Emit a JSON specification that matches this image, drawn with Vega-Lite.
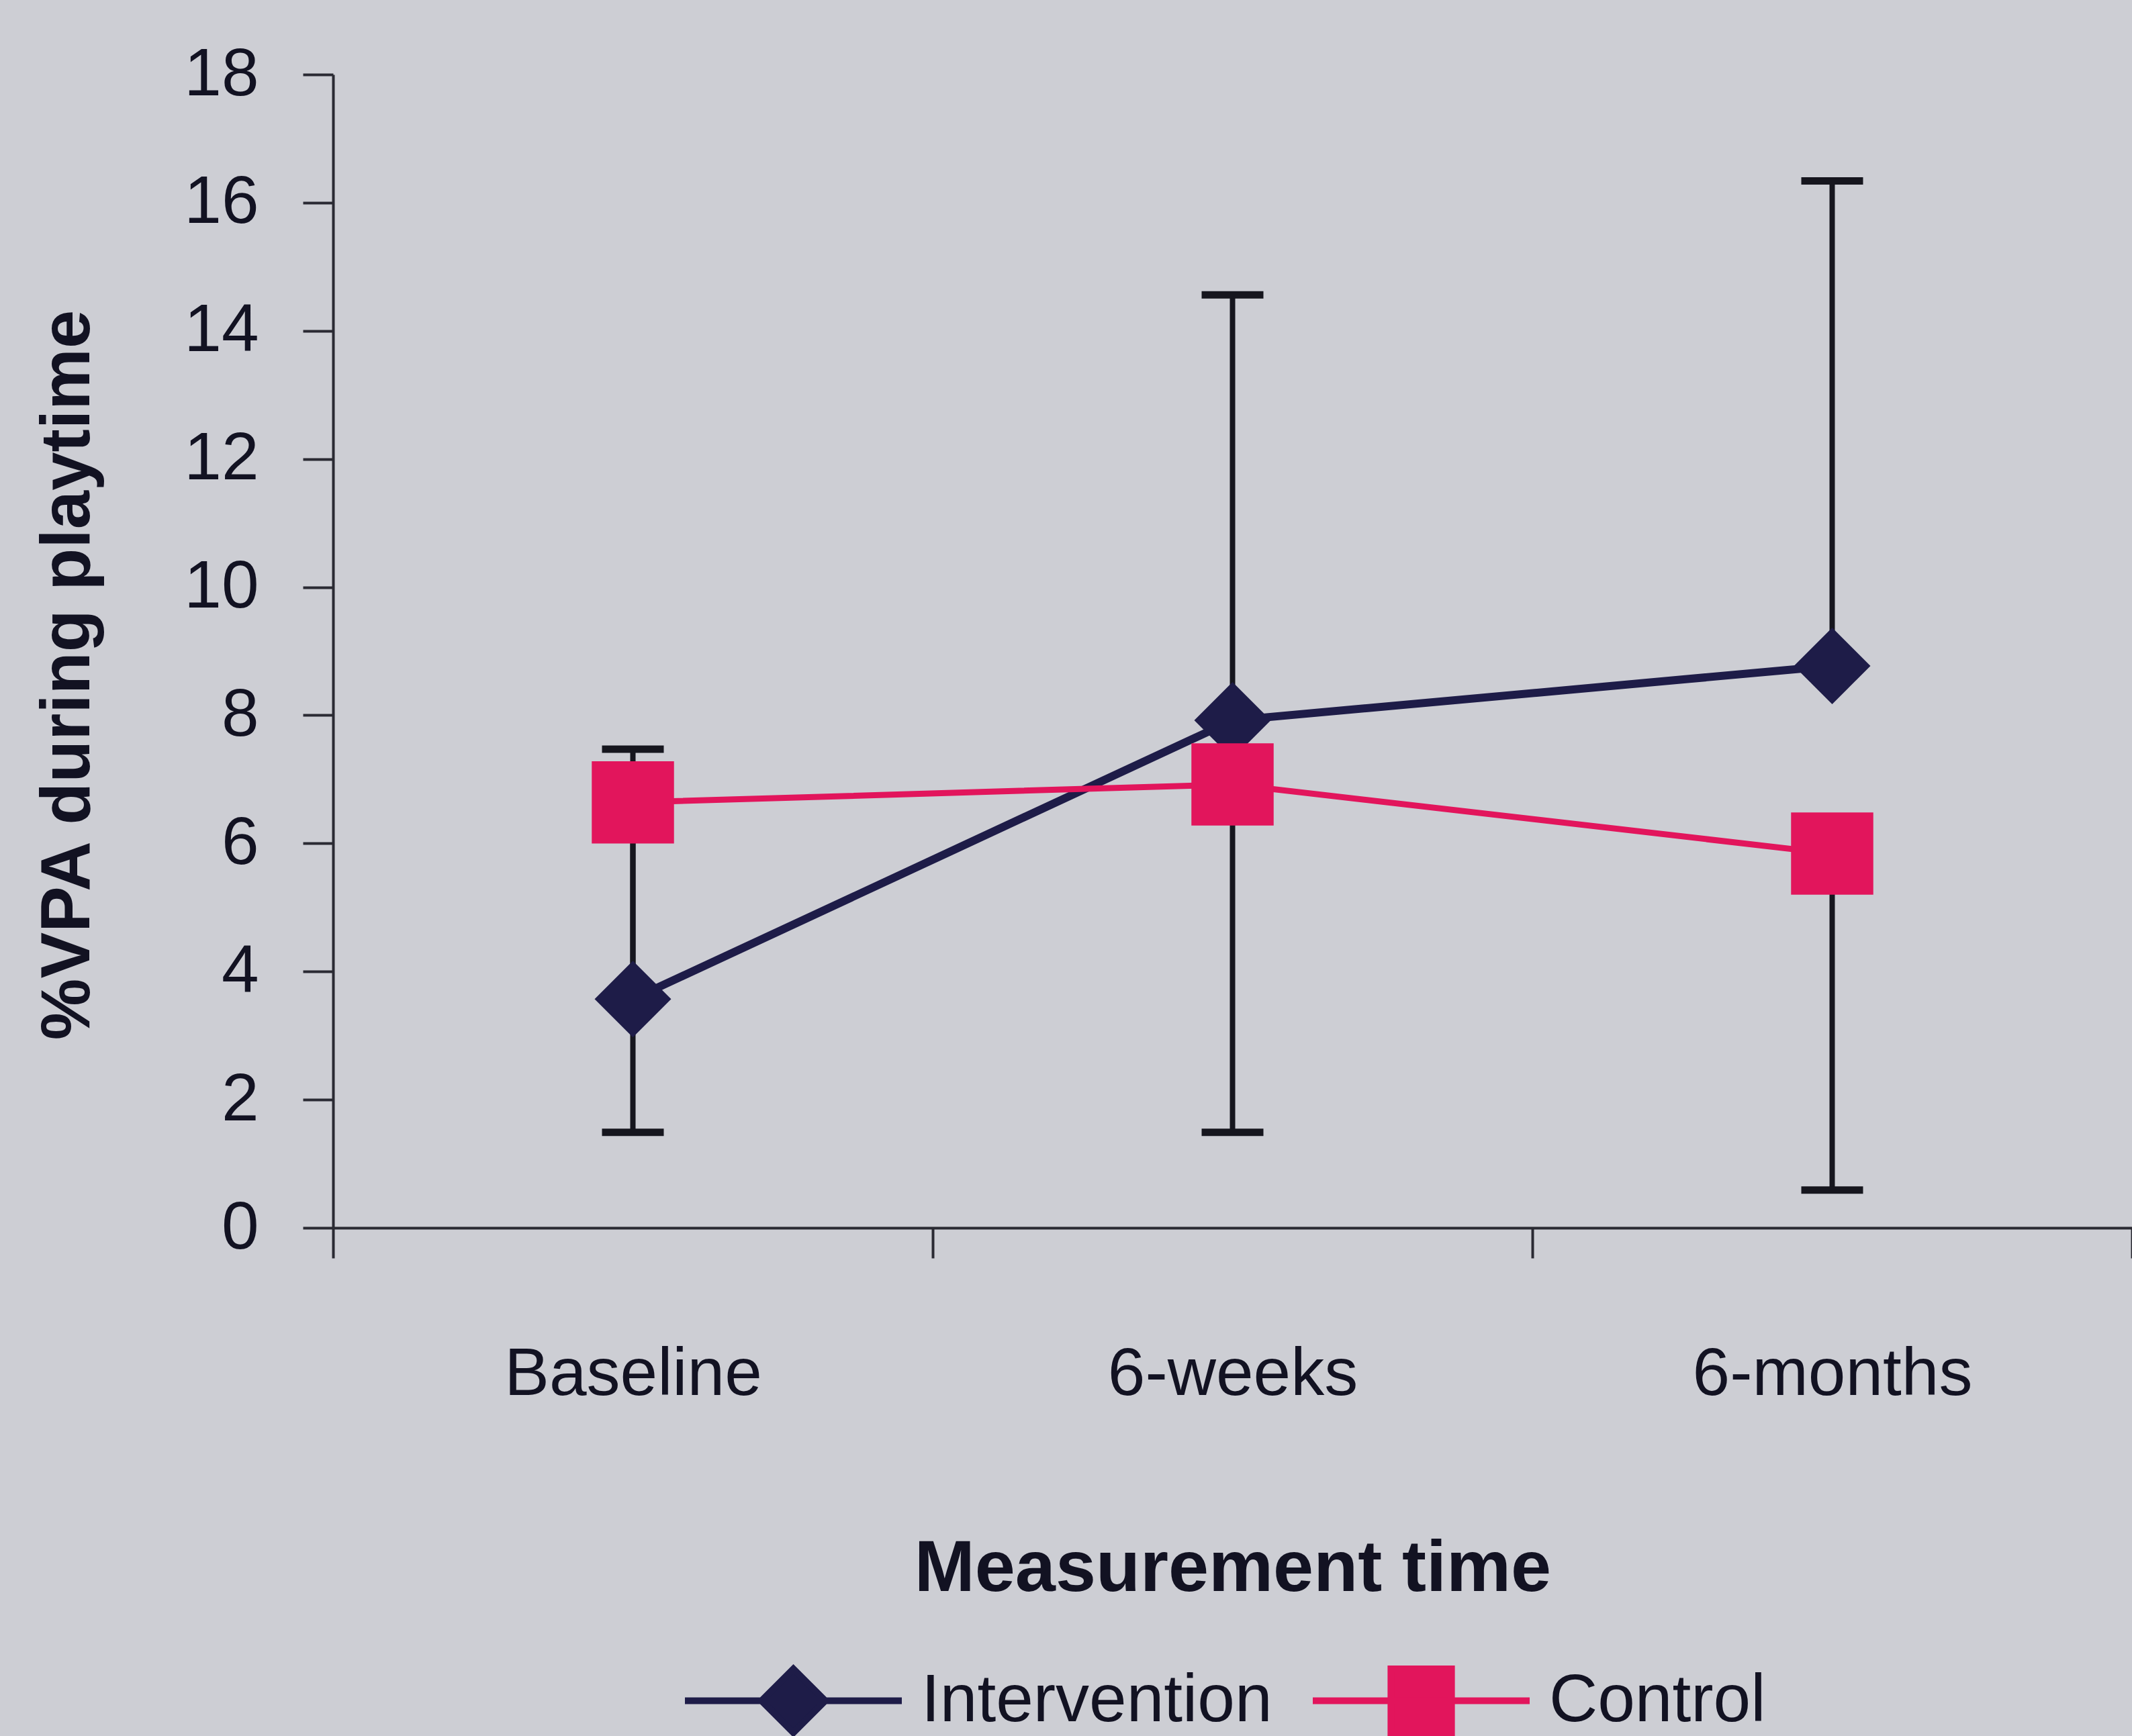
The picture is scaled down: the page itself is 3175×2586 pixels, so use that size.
{
  "$schema": "https://vega.github.io/schema/vega-lite/v6.json",
  "width": 2679,
  "height": 1718,
  "autosize": {"type": "none"},
  "padding": {"left": 496, "top": 111, "right": 0, "bottom": 757},
  "background": "#cdced4",
  "config": {
    "view": {"stroke": null},
    "font": "Liberation Sans",
    "axis": {
      "grid": false,
      "domainColor": "#2a2a33",
      "domainWidth": 4,
      "tickColor": "#2a2a33",
      "tickWidth": 4,
      "tickSize": 45,
      "labelLimit": 2000,
      "labelColor": "#121222",
      "titleColor": "#121222",
      "labelFont": "Liberation Sans",
      "titleFont": "Liberation Sans"
    }
  },
  "data": {
    "values": [
      {"time": "Baseline", "group": "Intervention", "mean": 3.57, "lo": 3.57, "hi": 7.47, "cap": 7.47},
      {"time": "6-weeks", "group": "Intervention", "mean": 7.92, "lo": 7.92, "hi": 14.56, "cap": 14.56},
      {"time": "6-months", "group": "Intervention", "mean": 8.77, "lo": 8.77, "hi": 16.34, "cap": 16.34},
      {"time": "Baseline", "group": "Control", "mean": 6.64, "lo": 1.49, "hi": 6.64, "cap": 1.49},
      {"time": "6-weeks", "group": "Control", "mean": 6.92, "lo": 1.49, "hi": 6.92, "cap": 1.49},
      {"time": "6-months", "group": "Control", "mean": 5.84, "lo": 0.59, "hi": 5.84, "cap": 0.59}
    ]
  },
  "encoding": {
    "x": {
      "field": "time",
      "type": "nominal",
      "sort": ["Baseline", "6-weeks", "6-months"],
      "scale": {"paddingInner": 0, "paddingOuter": 0},
      "axis": {
        "title": "Measurement time",
        "labelAngle": 0,
        "tickBand": "extent",
        "labelPadding": 124,
        "labelFontSize": 100,
        "titleFontSize": 108,
        "titleFontWeight": "bold",
        "titlePadding": 255
      }
    }
  },
  "layer": [
    {
      "mark": {"type": "rule", "color": "#16161e", "strokeWidth": 8},
      "encoding": {
        "y": {
          "field": "lo",
          "type": "quantitative",
          "scale": {"domain": [0, 18], "nice": false},
          "axis": {
            "values": [0, 2, 4, 6, 8, 10, 12, 14, 16, 18],
            "format": "d",
            "title": "%VPA during playtime",
            "labelPadding": 66,
            "labelFontSize": 100,
            "titleFontSize": 103,
            "titleFontWeight": "bold",
            "titlePadding": 142,
            "titleY": 894
          }
        },
        "y2": {"field": "hi"}
      }
    },
    {
      "mark": {"type": "tick", "color": "#16161e", "size": 92, "thickness": 11, "opacity": 1},
      "encoding": {
        "y": {"field": "cap", "type": "quantitative"}
      }
    },
    {
      "transform": [{"filter": "datum.group === 'Intervention'"}],
      "mark": {"type": "line", "strokeWidth": 12},
      "encoding": {
        "y": {"field": "mean", "type": "quantitative"},
        "color": {
          "field": "group",
          "type": "nominal",
          "scale": {"domain": ["Intervention", "Control"], "range": ["#1e1c48", "#e2155c"]},
          "legend": {
            "orient": "none",
            "legendX": 633,
            "legendY": 2370,
            "direction": "horizontal",
            "title": null,
            "labelFontSize": 100,
            "labelColor": "#121222",
            "labelLimit": 2000,
            "symbolSize": 9025,
            "symbolStrokeWidth": 10,
            "symbolOpacity": 1,
            "labelOffset": 138,
            "columnPadding": 40,
            "encode": {
              "symbols": {
                "update": {
                  "shape": {"signal": "datum.value === 'Intervention' ? 'M-3.4,0L3.4,0M-1,0L0,-1L1,0L0,1Z' : 'M-3.4,0L3.4,0M-0.95,-1L0.95,-1L0.95,1L-0.95,1Z'"},
                  "strokeWidth": {"value": 10},
                  "size": {"value": 9025}
                }
              }
            }
          }
        }
      }
    },
    {
      "transform": [{"filter": "datum.group === 'Control'"}],
      "mark": {"type": "line", "strokeWidth": 9},
      "encoding": {
        "y": {"field": "mean", "type": "quantitative"},
        "color": {
          "field": "group",
          "type": "nominal",
          "scale": {"domain": ["Intervention", "Control"], "range": ["#1e1c48", "#e2155c"]}
        }
      }
    },
    {
      "transform": [{"filter": "datum.group === 'Intervention'"}],
      "mark": {"type": "point", "filled": true, "opacity": 1, "shape": "diamond", "size": 13000},
      "encoding": {
        "y": {"field": "mean", "type": "quantitative"},
        "color": {
          "field": "group",
          "type": "nominal",
          "scale": {"domain": ["Intervention", "Control"], "range": ["#1e1c48", "#e2155c"]}
        }
      }
    },
    {
      "transform": [{"filter": "datum.group === 'Control'"}],
      "mark": {"type": "point", "filled": true, "opacity": 1, "shape": "square", "size": 15000},
      "encoding": {
        "y": {"field": "mean", "type": "quantitative"},
        "color": {
          "field": "group",
          "type": "nominal",
          "scale": {"domain": ["Intervention", "Control"], "range": ["#1e1c48", "#e2155c"]}
        }
      }
    }
  ]
}
